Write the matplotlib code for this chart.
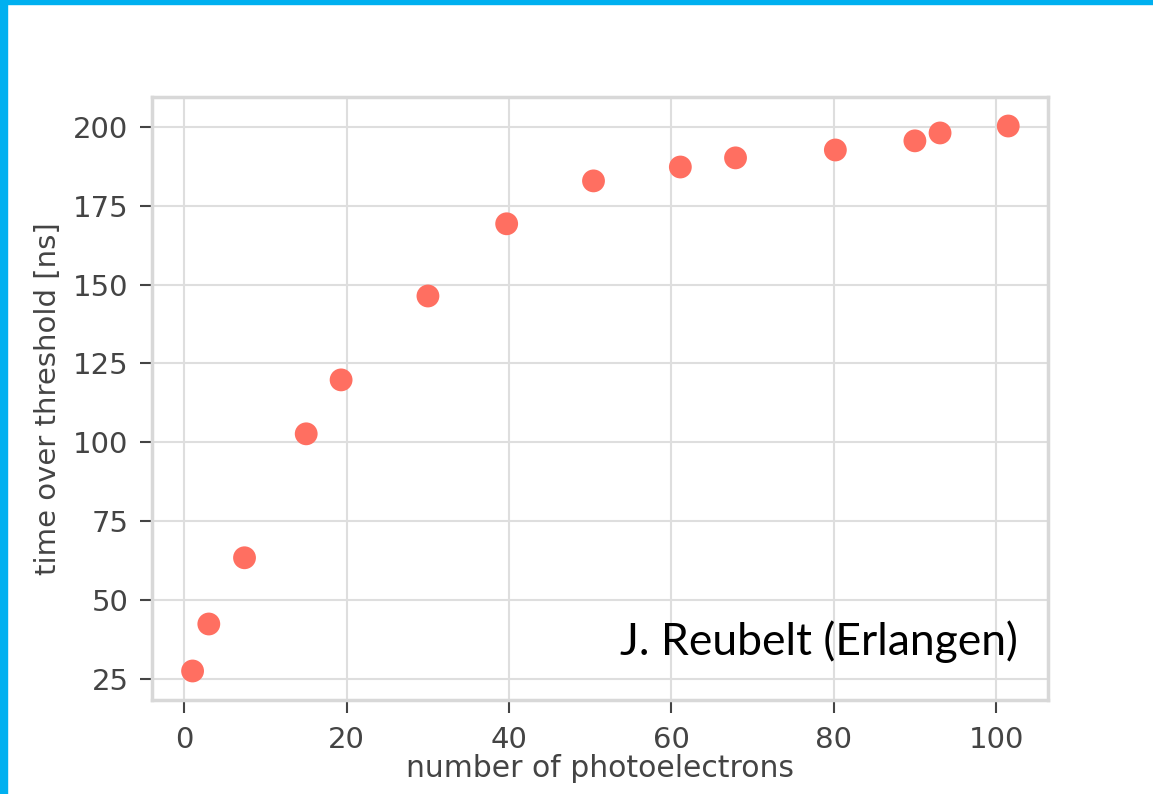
import matplotlib
matplotlib.use("Agg")
import matplotlib.pyplot as plt
import matplotlib.patches as patches

# photoelectrons vs. time over threshold
n_pe = [1.0, 3.0, 7.4, 15.0, 19.3, 30.0, 39.7, 50.4, 61.1, 67.9, 80.2, 90.0, 93.1, 101.5]
tot_ns = [27.5, 42.4, 63.4, 102.7, 119.8, 146.4, 169.3, 182.9, 187.3, 190.2, 192.7, 195.6, 198.1, 200.3]
x_ticks = [0, 20, 40, 60, 80, 100]
y_ticks = [25, 50, 75, 100, 125, 150, 175, 200]

plt.rcParams['font.family'] = ['DejaVu Sans']
txt_col = '#444444'

fig = plt.figure(figsize=(11.53, 7.94), dpi=100)
ax = fig.add_axes([152/1153, 1-700/794, (1048-152)/1153, (700-97)/794])

ax.scatter(n_pe, tot_ns, s=270, color='#ff6f61', edgecolors='none', zorder=3)

ax.set_xlim(-4, 106.4)
ax.set_ylim(18.3, 209.5)
ax.set_xticks(x_ticks)
ax.set_yticks(y_ticks)
ax.grid(True, color='#dedede', lw=1.5)
ax.set_axisbelow(True)
for s in ax.spines.values():
    s.set_color('#d8d8d8')
    s.set_linewidth(2.5)
ax.tick_params(colors=txt_col, labelsize=21, length=9, width=1.5, direction='out')
ax.tick_params(axis='x', pad=10)
ax.tick_params(axis='y', pad=8)
ax.set_xlabel("number of photoelectrons", fontsize=21.5, color=txt_col)
ax.set_ylabel("time over threshold [ns]", fontsize=21, color=txt_col)
ax.xaxis.set_label_coords(0.5, -0.09)
ax.yaxis.set_label_coords(-0.116, 0.5)
ax.yaxis.label.set_va('center')

ax.text(0.9665, 0.0746, "J. Reubelt (Erlangen)", transform=ax.transAxes, ha='right', va='baseline',
        fontsize=32, color='black', family=['Lato', 'DejaVu Sans'])

# blue slide border, top and left
fig.patches.append(patches.Rectangle((0, 1-4/794), 1, 4/794, transform=fig.transFigure,
                                     color='#00b0f0', zorder=0))
fig.patches.append(patches.Rectangle((0, 0), 7/1153, 1, transform=fig.transFigure,
                                     color='#00b0f0', zorder=0))

fig.savefig("out.png", dpi=100)
